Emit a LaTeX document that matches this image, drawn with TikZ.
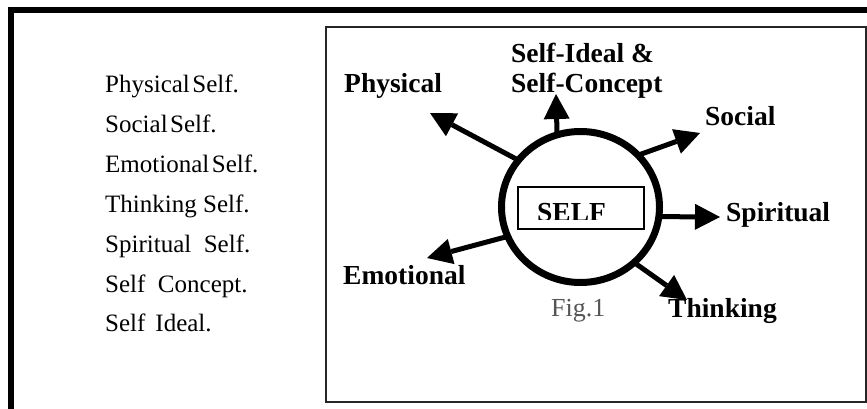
\documentclass[tikz,border=0pt]{standalone}
\usepackage{fontspec}
\setmainfont{Liberation Serif}
\usetikzlibrary{arrows.meta,shapes.geometric}
\definecolor{figgray}{HTML}{555555}
\begin{document}
\begin{tikzpicture}[x=1pt,y=-1pt,
  lbl/.style={font=\fontsize{27.5}{30}\selectfont\bfseries, inner sep=0pt, anchor=base west},
  lst/.style={font=\fontsize{25}{28}\selectfont, inner sep=0pt, anchor=base west},
  arr/.style={line width=5pt, -{Triangle[length=25pt,width=26pt,line width=0pt]}},
]
\useasboundingbox (0,0) rectangle (867,409);
% outer frame
\draw[line width=6pt, line join=miter] (11,409) -- (11,10) -- (867,10);
% inner box
\node[draw=black!85, line width=1.3pt, minimum width=540pt, minimum height=375pt, inner sep=0pt, outer sep=0pt] (panel) at (596,214.5) {};
% list
\foreach \t [count=\i from 0] in {Physical\hspace{0.1em}Self., Social\hspace{0.1em}Self., Emotional\hspace{0.1em}Self., Thinking Self., Spiritual\hspace{0.5em}Self., Self\hspace{0.5em}Concept., Self\hspace{0.4em}Ideal.}
  \node[lst] (list\i) at (105,{93+39.8*\i}) {\t};
% centre
\node[ellipse, draw, line width=7pt, minimum width=158pt, minimum height=151pt, inner sep=0pt, outer sep=0pt] (self) at (580.5,207) {};
\node[draw, line width=1.1pt, minimum width=126pt, minimum height=42pt, inner sep=0pt] (selfbox) at (581,208) {};
\begin{scope}
  \clip (518,187) rectangle (644,219.5);
  \node[lbl] (selftxt) at (537,221.5) {SELF};
\end{scope}
% labels
\node[lbl] (phys) at (344,93) {Physical};
\node[lbl] (ideal) at (511,93) {\begin{tabular}[b]{@{}l@{}}Self-Ideal \&\\Self-Concept\end{tabular}};
\node[lbl] (soc) at (705,125) {Social};
\node[lbl] (spir) at (726,221) {Spiritual};
\node[lbl] (emo) at (343,284) {Emotional};
\node[lbl] (think) at (668,317) {Thinking};
\node[font=\fontsize{26}{30}\selectfont, text=figgray, inner sep=0pt, anchor=base west] (fig) at (551,316) {Fig.1};
% arrow tips
\coordinate (tPhys) at (430,113);
\coordinate (tIdeal) at (556,94);
\coordinate (tSoc) at (700,133);
\coordinate (tSpir) at (720,217);
\coordinate (tEmo) at (427,258);
\coordinate (tThink) at (687,300);
% arrows
\draw[arr] (self.143.5) -- (tPhys);
\draw[arr] (self.108) -- (tIdeal);
\draw[arr] (self.42.7) -- (tSoc);
\draw[arr] (self.-7) -- (tSpir);
\draw[arr] (self.202) -- (tEmo);
\draw[arr] (self.-46.4) -- (tThink);
\end{tikzpicture}
\end{document}
